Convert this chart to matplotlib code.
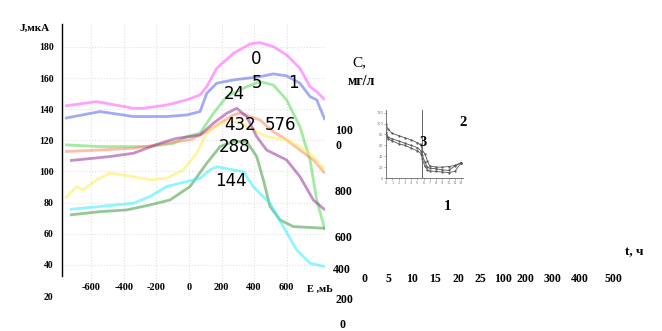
import matplotlib.pyplot as plt
import numpy as np

# --- Daten: Strom J (мкА) gegen Potential E (мВ) ---
e_0 = [-762, -568, -342, -281, -137, -14, 68, 109, 170, 273, 375, 436, 518, 600, 682, 744, 785, 836]
j_0 = [142.1, 144.9, 140.6, 140.6, 142.7, 146.0, 149.2, 154.5, 166.3, 175.9, 181.9, 182.8, 180.2, 174.9, 166.3, 154.5, 151.3, 146.0]

e_1 = [-762, -547, -342, -137, -14, 68, 109, 170, 273, 436, 518, 600, 682, 744, 785, 836]
j_1 = [134.2, 138.5, 135.3, 135.3, 136.3, 138.5, 150.2, 156.7, 158.8, 160.9, 162.7, 161.4, 156.7, 148.1, 146.0, 133.1]

e_5 = [-762, -547, -240, -96, -14, 68, 150, 232, 355, 436, 518, 600, 682, 744, 785, 836]
j_5 = [117.1, 116.0, 116.0, 118.1, 122.4, 124.6, 137.4, 148.1, 154.5, 157.7, 155.6, 146.0, 128.8, 107.4, 81.7, 62.5]

e_576 = [-762, -547, -342, -137, 6, 109, 191, 273, 314, 436, 518, 600, 682, 764, 836]
j_576 = [112.8, 113.8, 114.9, 118.1, 120.3, 125.6, 131.0, 136.3, 137.4, 133.1, 125.6, 120.3, 113.8, 107.4, 98.9]

e_432 = [-762, -691, -650, -568, -486, -342, -240, -137, -35, 47, 109, 191, 314, 395, 477, 600, 682, 764, 836]
j_432 = [82.8, 90.3, 88.2, 94.6, 98.9, 96.7, 94.6, 95.7, 101.0, 111.7, 124.6, 131.0, 132.0, 126.7, 122.4, 120.3, 116.0, 109.6, 101.0]

e_24 = [-732, -588, -486, -342, -178, -76, 6, 68, 150, 232, 293, 355, 416, 477, 600, 682, 764, 836]
j_24 = [107.0, 108.5, 109.6, 111.7, 118.1, 121.3, 122.4, 123.5, 131.0, 137.4, 140.6, 135.3, 122.4, 113.8, 107.4, 96.7, 81.7, 75.3]

e_288 = [-732, -547, -383, -240, -117, 6, 109, 191, 273, 355, 416, 457, 498, 559, 641, 836]
j_288 = [72.1, 74.2, 75.3, 78.5, 81.7, 90.3, 105.3, 116.0, 119.2, 119.2, 109.6, 94.6, 77.5, 68.9, 64.6, 63.5]

e_144 = [-732, -547, -342, -240, -137, -14, 68, 129, 170, 273, 334, 395, 457, 498, 580, 662, 744, 836]
j_144 = [75.7, 77.5, 79.6, 83.9, 90.3, 93.5, 95.6, 101.0, 103.1, 101.0, 99.9, 90.3, 83.7, 79.6, 64.6, 49.6, 41.0, 38.9]

kurven = [
    (e_0, j_0, '#ff55ff'), (e_1, j_1, '#5566ee'), (e_5, j_5, '#55dd55'),
    (e_576, j_576, '#ff8866'), (e_432, j_432, '#ffee55'), (e_24, j_24, '#993399'),
    (e_288, j_288, '#3f9a3f'), (e_144, j_144, '#33eeff'),
]
kurven_namen = ['0', '5', '1', '24', '432', '576', '288', '144']
kurven_name_pos = [(415, 172), (420, 157), (640, 157), (280, 150), (315, 130), (560, 130), (280, 116), (260, 94)]

j_ticks = [180, 160, 140, 120, 100, 80, 60, 40, 20]
e_ticks = [-600, -400, -200, 0, 200, 400, 600]

# rechte Beschriftungen (Konzentration C gegen Zeit t)
c_labels = ['100', '0', '800', '600', '400', '200', '0']
t_labels = ['0', '5', '10', '15', '20', '25', '100', '200', '300', '400', '500']

# Einschub: drei Kurven
t_in = [0, 0.3, 1, 2, 3, 4, 5, 5.6, 5.8, 6.2, 6.6, 7, 8, 9, 10, 11, 12]
c_in1 = [100, 90, 82, 78, 74, 70, 65, 60, 50, 45, 32, 22, 20, 20, 21, 23, 28]
c_in2 = [85, 75, 72, 68, 64, 60, 56, 50, 42, 30, 20, 18, 17, 15, 14, 22, 28]
c_in3 = [80, 72, 68, 63, 60, 55, 50, 45, 35, 22, 15, 13, 12, 11, 10, 12, 28]

serif_bold = dict(family='Liberation Serif', fontweight='bold')

fig = plt.figure(figsize=(6.62, 3.31), dpi=100)

# Hauptdiagramm
ax = fig.add_axes([62 / 662, 35 / 331, 263 / 662, 272.4 / 331])
for e, j, col in kurven:
    ax.plot(e, j, color=col, lw=2.0, alpha=0.55, solid_capstyle='butt')
for name, (x, y) in zip(kurven_namen, kurven_name_pos):
    ax.text(x, y, name, ha='center', va='center', fontsize=12,
            family=['Liberation Sans Narrow', 'DejaVu Sans'])

ax.set_xlim(-781, 836)
ax.set_ylim(20, 195)
for s in ['top', 'right', 'bottom']:
    ax.spines[s].set_visible(False)
ax.spines['left'].set_bounds(33, 195)
ax.spines['left'].set_linewidth(1.0)
ax.set_yticks(j_ticks)
ax.set_yticklabels([str(v) for v in j_ticks], fontsize=7, **serif_bold)
ax.set_xticks(e_ticks)
ax.set_xticklabels([str(v) for v in e_ticks], fontsize=7.5, **serif_bold)
ax.tick_params(axis='y', length=0, pad=6)
ax.tick_params(axis='x', length=0, pad=-9)
ax.grid(True, color='#e0e0e0', linestyle=':', lw=0.8)
fig.text(20 / 662, 1 - 28 / 331, 'J,мкА', fontsize=8, ha='left', va='center', **serif_bold)
ax.text(725, 24.5, 'E ,мЬ', fontsize=7.5, ha='left', va='center', clip_on=False, **serif_bold)

# rechte Texte
c_pos = [(344, 131), (338, 146), (344, 192), (344, 238), (342, 270), (344, 300), (343, 325)]
for lab, (x, y) in zip(c_labels, c_pos):
    fig.text(x / 662, 1 - y / 331, lab, ha='center', va='center', fontsize=8.5, **serif_bold)
t_pos = [365, 388, 412, 435, 458, 480, 503, 525, 552, 580, 613]
for lab, x in zip(t_labels, t_pos):
    fig.text(x / 662, 1 - 279 / 331, lab, ha='center', va='center', fontsize=8.5, **serif_bold)
fig.text(359 / 662, 1 - 63 / 331, 'C,', ha='center', va='center', fontsize=11, family='Liberation Serif')
fig.text(361 / 662, 1 - 82 / 331, 'мг/л', ha='center', va='center', fontsize=10, **serif_bold)
fig.text(634 / 662, 1 - 252 / 331, 't, ч', ha='center', va='center', fontsize=9.5, **serif_bold)
fig.text(463 / 662, 1 - 123 / 331, '2', ha='center', va='center', fontsize=10.5, **serif_bold)
fig.text(423 / 662, 1 - 142 / 331, '3', ha='center', va='center', fontsize=10.5, **serif_bold)
fig.text(447 / 662, 1 - 207 / 331, '1', ha='center', va='center', fontsize=10.5, **serif_bold)

# Einschub
ax_in = fig.add_axes([386 / 662, 153 / 331, 77 / 662, 68 / 331])
for c in [c_in1, c_in2, c_in3]:
    ax_in.plot(t_in, c, color='#555555', lw=0.6, marker='.', ms=1.2)
ax_in.axvline(5.7, color='#666666', lw=0.7)
ax_in.set_xlim(0, 12.3)
ax_in.set_ylim(0, 125)
ax_in.set_yticks([0, 20, 40, 60, 80, 100, 120])
ax_in.set_xticks(range(13))
ax_in.tick_params(labelsize=2.5, length=1.2, width=0.4, pad=1, colors='#777777')
for s in ['top', 'right']:
    ax_in.spines[s].set_visible(False)
for s in ['left', 'bottom']:
    ax_in.spines[s].set_linewidth(0.6)
    ax_in.spines[s].set_color('#666666')
ax_in.patch.set_alpha(0)

fig.savefig('out.png', dpi=100)
